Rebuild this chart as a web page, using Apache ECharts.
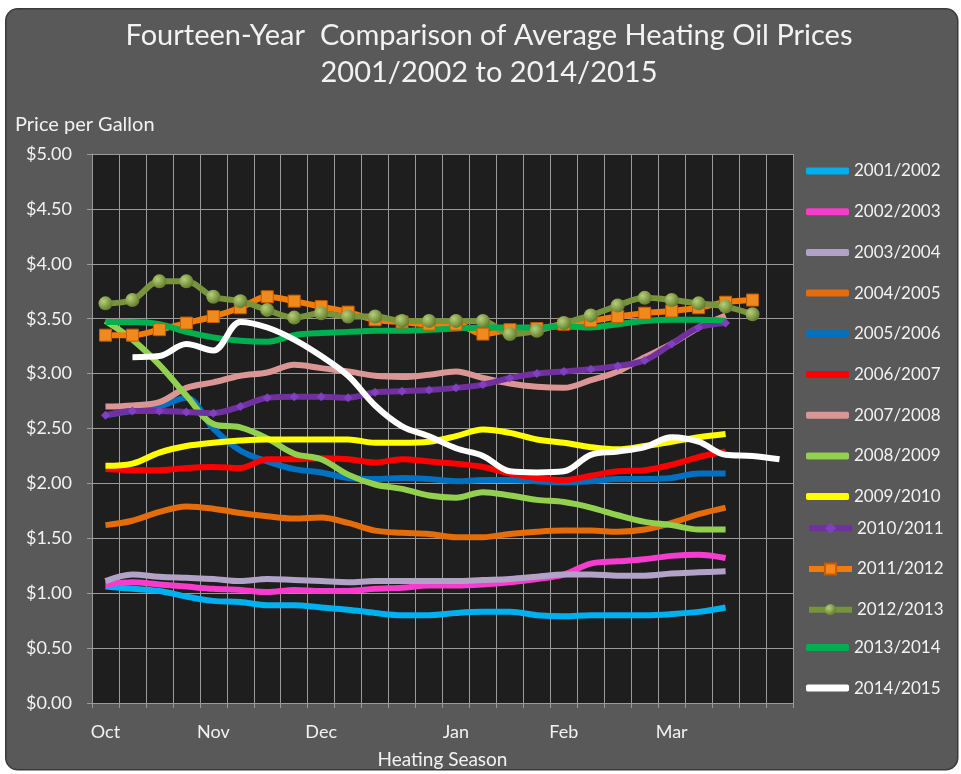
<!DOCTYPE html>
<html><head><meta charset="utf-8">
<script src="https://cdn.jsdelivr.net/npm/echarts@6/dist/echarts.min.js"></script>
<style>html,body{margin:0;padding:0;background:#fff}#c{width:961px;height:774px}</style>
</head><body><div id="c"></div>
<script>
// Week categories of the heating season (labels only at month starts)
const categories = ['Oct','','','','Nov','','','','Dec','','','','','Jan','','','','Feb','','','','Mar','','','',''];
const yTicks = [0,0.5,1,1.5,2,2.5,3,3.5,4,4.5,5];
const seasons = ['2001/2002','2002/2003','2003/2004','2004/2005','2005/2006','2006/2007','2007/2008','2008/2009','2009/2010','2010/2011','2011/2012','2012/2013','2013/2014','2014/2015'];

const p2001 = [1.06,1.04,1.02,0.97,0.93,0.92,0.89,0.89,0.87,0.85,0.82,0.80,0.80,0.82,0.83,0.83,0.80,0.79,0.80,0.80,0.80,0.81,0.83,0.87];
const p2002 = [1.08,1.10,1.08,1.06,1.04,1.03,1.01,1.03,1.02,1.02,1.04,1.05,1.07,1.07,1.08,1.10,1.13,1.17,1.27,1.29,1.31,1.34,1.35,1.32];
const p2003 = [1.11,1.17,1.15,1.14,1.13,1.11,1.13,1.12,1.11,1.10,1.11,1.11,1.11,1.11,1.12,1.13,1.15,1.17,1.17,1.16,1.16,1.18,1.19,1.20];
const p2004 = [1.62,1.66,1.74,1.79,1.77,1.73,1.70,1.68,1.69,1.64,1.57,1.55,1.54,1.51,1.51,1.54,1.56,1.57,1.57,1.56,1.58,1.64,1.72,1.78];
const p2005 = [2.62,2.66,2.70,2.78,2.50,2.30,2.20,2.13,2.10,2.05,2.04,2.05,2.04,2.02,2.03,2.03,2.02,2.01,2.02,2.04,2.04,2.05,2.09,2.09];
const p2006 = [2.13,2.12,2.12,2.14,2.15,2.14,2.22,2.22,2.23,2.22,2.19,2.22,2.20,2.18,2.15,2.09,2.05,2.03,2.07,2.11,2.12,2.17,2.24,2.29];
const p2007 = [2.70,2.71,2.74,2.87,2.92,2.98,3.01,3.08,3.05,3.02,2.98,2.97,2.99,3.02,2.96,2.91,2.88,2.87,2.94,3.02,3.15,3.27,3.42,3.53];
const p2008 = [3.48,3.31,3.08,2.80,2.54,2.51,2.41,2.27,2.22,2.08,1.99,1.95,1.89,1.87,1.92,1.89,1.85,1.83,1.78,1.71,1.65,1.62,1.58,1.58];
const p2009 = [2.16,2.18,2.28,2.34,2.37,2.39,2.40,2.40,2.40,2.40,2.37,2.37,2.38,2.43,2.49,2.46,2.40,2.37,2.33,2.31,2.34,2.38,2.42,2.45];
const p2010 = [2.62,2.66,2.66,2.65,2.64,2.70,2.78,2.79,2.79,2.78,2.83,2.84,2.85,2.87,2.90,2.96,3.00,3.02,3.04,3.07,3.12,3.27,3.42,3.46];
const p2011 = [3.35,3.35,3.40,3.46,3.52,3.60,3.70,3.66,3.61,3.56,3.49,3.47,3.45,3.45,3.36,3.40,3.41,3.45,3.48,3.52,3.55,3.57,3.60,3.65,3.67];
const p2012 = [3.64,3.67,3.84,3.84,3.70,3.66,3.58,3.51,3.55,3.52,3.52,3.48,3.48,3.48,3.48,3.36,3.39,3.46,3.53,3.62,3.69,3.67,3.64,3.61,3.54];
const p2013 = [3.47,3.47,3.45,3.38,3.33,3.30,3.29,3.35,3.37,3.38,3.39,3.39,3.40,3.41,3.42,3.42,3.42,3.43,3.42,3.45,3.48,3.49,3.49,3.48];
const p2014 = [null,3.15,3.16,3.27,3.21,3.47,3.42,3.31,3.16,2.98,2.71,2.52,2.43,2.32,2.25,2.11,2.10,2.11,2.26,2.29,2.33,2.42,2.38,2.26,2.25,2.22];

const seriesData = [p2001,p2002,p2003,p2004,p2005,p2006,p2007,p2008,p2009,p2010,p2011,p2012,p2013,p2014];
const colors = ['#00b0f0','#f53ccd','#b3a2c7','#e46c0a','#0070c0','#ff0000','#da9694','#92d050','#ffff00','#7030a0','#f07c0c','#77933c','#00b050','#ffffff'];

const FONT = 'Lato';
const chart = echarts.init(document.getElementById('c'));

const series = seasons.map((name, i) => {
  const s = {
    name, type: 'line', data: seriesData[i], smooth: 0.35,
    lineStyle: { width: 6, color: colors[i] },
    itemStyle: { color: colors[i] },
    symbol: 'none', showSymbol: false
  };
  if (name === '2010/2011') {
    s.symbol = 'diamond'; s.showSymbol = true; s.symbolSize = 9;
    s.itemStyle = { color: '#8040c0' };
  } else if (name === '2011/2012') {
    s.symbol = 'rect'; s.showSymbol = true; s.symbolSize = 12;
    s.itemStyle = { color: '#f08a1c', borderColor: '#c85a00', borderWidth: 1 };
  } else if (name === '2012/2013') {
    s.symbol = 'circle'; s.showSymbol = true; s.symbolSize = 14;
    s.itemStyle = { color: new echarts.graphic.RadialGradient(0.35,0.35,0.7,[{offset:0,color:'#b6cf7a'},{offset:1,color:'#5f7a28'}]) };
  }
  return s;
});

const STEP = 39.7, TOP0 = 157.5;
const legendText = { color: '#f2f2f2', fontSize: 17, fontFamily: FONT, lineHeight: 16 };
function legendBlock(names, startIdx, plain) {
  const l = {
    orient: 'vertical', left: 801, top: TOP0 + STEP * startIdx,
    itemWidth: 43, itemHeight: plain ? 7 : 14, itemGap: STEP - 16,
    data: names, textStyle: legendText
  };
  if (plain) l.icon = 'roundRect';
  else l.lineStyle = { width: 6 };
  return l;
}

chart.setOption({
  animation: false,
  textStyle: { fontFamily: FONT },
  graphic: [
    { type: 'rect', left: 5, top: 8, z: -10, shape: { width: 952, height: 761, r: 12 }, style: { fill: '#595959', stroke: '#3a3a3a', lineWidth: 1.5 } },
    { type: 'text', x: 489, y: 17, style: { text: 'Fourteen-Year  Comparison of Average Heating Oil Prices\n2001/2002 to 2014/2015', align: 'center', fill: '#f2f2f2', font: '29px ' + FONT, lineHeight: 37 } },
    { type: 'text', left: 15, top: 115, style: { text: 'Price per Gallon', fill: '#f2f2f2', font: '20px ' + FONT } }
  ],
  legend: [
    legendBlock(seasons.slice(0, 9), 0, true),
    legendBlock(seasons.slice(9, 12), 9, false),
    legendBlock(seasons.slice(12), 12, true)
  ],
  grid: { left: 92, right: 168, top: 154, bottom: 70, show: true, backgroundColor: '#1e1e1e', borderWidth: 0 },
  xAxis: {
    type: 'category', data: categories, boundaryGap: true,
    name: 'Heating Season', nameLocation: 'middle', nameGap: 47,
    nameTextStyle: { color: '#f2f2f2', fontSize: 19, fontFamily: FONT },
    axisLine: { lineStyle: { color: '#9a9a9a' } },
    axisTick: { show: true, interval: 0, length: 5, lineStyle: { color: '#9a9a9a' } },
    axisLabel: { interval: 0, color: '#f2f2f2', fontSize: 18, margin: 20, fontFamily: FONT },
    splitLine: { show: true, interval: 0, lineStyle: { color: '#9a9a9a', width: 1 } }
  },
  yAxis: {
    type: 'value', min: yTicks[0], max: yTicks[yTicks.length - 1], interval: 0.5,
    axisLine: { show: true, lineStyle: { color: '#9a9a9a' } },
    axisTick: { show: true, length: 5, lineStyle: { color: '#9a9a9a' } },
    axisLabel: { color: '#f2f2f2', fontSize: 18, margin: 20, fontFamily: FONT,
      formatter: v => '$' + v.toFixed(2) },
    splitLine: { show: true, lineStyle: { color: '#9a9a9a', width: 1 } }
  },
  series
});
</script></body></html>
